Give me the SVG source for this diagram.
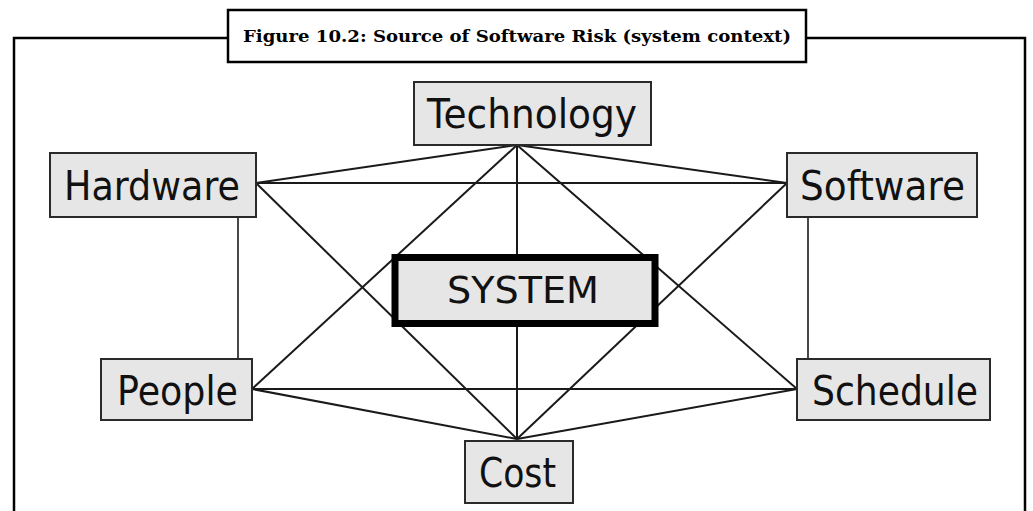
<svg xmlns="http://www.w3.org/2000/svg" width="1033" height="511" viewBox="0 0 1033 511">
<style>
.frame{fill:none;stroke:#000;stroke-width:2.5}
.box{fill:#e6e6e6;stroke:#2a2a2a;stroke-width:2}
.lbl{font-family:"DejaVu Sans",Verdana,sans-serif;font-size:40px;fill:#111}
.conn line{stroke:#1a1a1a;stroke-width:2}
.title{font-family:"DejaVu Serif","Liberation Serif",serif;font-weight:bold;font-size:17.5px;fill:#000}
</style>
<rect width="1033" height="511" fill="#fff"/>
<path class="frame" d="M228,38 H14 V511 M806,38 H1025 V511"/>
<g id="title">
<rect x="228" y="10" width="578" height="52" fill="#fff" stroke="#000" stroke-width="2.5"/>
<text class="title" x="243" y="42" textLength="548" lengthAdjust="spacingAndGlyphs">Figure 10.2: Source of Software Risk (system context)</text>
</g>
<g id="connectors" class="conn">
<line x1="517" y1="145" x2="256" y2="183"/>
<line x1="517" y1="145" x2="787" y2="183"/>
<line x1="517" y1="145" x2="517" y2="439"/>
<line x1="517" y1="145" x2="252" y2="389"/>
<line x1="517" y1="145" x2="797" y2="389"/>
<line x1="256" y1="183" x2="787" y2="183"/>
<line x1="256" y1="183" x2="517" y2="439"/>
<line x1="787" y1="183" x2="517" y2="439"/>
<line x1="252" y1="389" x2="797" y2="389"/>
<line x1="252" y1="389" x2="517" y2="439"/>
<line x1="797" y1="389" x2="517" y2="439"/>
<line x1="238" y1="217" x2="238" y2="359" style="stroke-width:1.6"/>
<line x1="808" y1="217" x2="808" y2="359" style="stroke-width:1.6"/>
</g>
<g id="technology">
<rect class="box" x="414" y="82" width="237" height="63"/>
<text class="lbl" x="427" y="128" textLength="210" lengthAdjust="spacingAndGlyphs">Technology</text>
</g>
<g id="hardware">
<rect class="box" x="50" y="153" width="206" height="64"/>
<text class="lbl" x="64" y="200" textLength="176" lengthAdjust="spacingAndGlyphs">Hardware</text>
</g>
<g id="software">
<rect class="box" x="787" y="153" width="190" height="64"/>
<text class="lbl" x="800" y="200" textLength="165" lengthAdjust="spacingAndGlyphs">Software</text>
</g>
<g id="system">
<rect x="395" y="257.5" width="260" height="66" fill="#e6e6e6" stroke="#000" stroke-width="7"/>
<text class="lbl" x="447" y="303" textLength="152" lengthAdjust="spacingAndGlyphs" style="font-size:38px">SYSTEM</text>
</g>
<g id="people">
<rect class="box" x="101" y="359" width="151" height="61"/>
<text class="lbl" x="117" y="405" textLength="121" lengthAdjust="spacingAndGlyphs">People</text>
</g>
<g id="schedule">
<rect class="box" x="797" y="359" width="193" height="61"/>
<text class="lbl" x="812" y="405" textLength="166" lengthAdjust="spacingAndGlyphs">Schedule</text>
</g>
<g id="cost">
<rect class="box" x="465" y="441" width="108" height="62"/>
<text class="lbl" x="479" y="487" textLength="77" lengthAdjust="spacingAndGlyphs">Cost</text>
</g>
</svg>
